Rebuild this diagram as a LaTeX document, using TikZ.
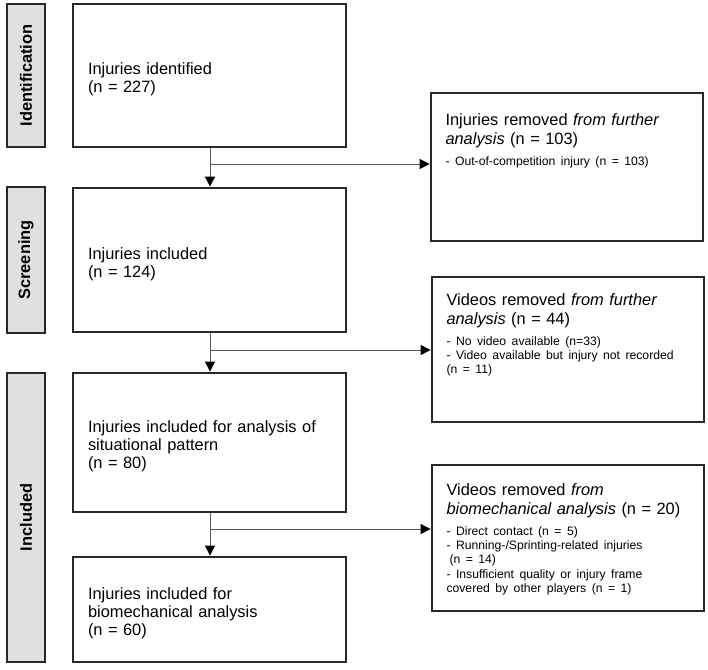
\documentclass[tikz,border=0pt]{standalone}
\usepackage{fontspec}
\setmainfont{Liberation Sans}
\usetikzlibrary{arrows.meta}
\definecolor{sidegray}{RGB}{224,224,224}
\definecolor{edgec}{RGB}{40,40,40}
\definecolor{linec}{RGB}{90,90,90}
\newcommand{\toppad}{\rule{0pt}{19.5pt}}
\begin{document}
\begin{tikzpicture}[x=1pt,y=-1pt,
  sidebox/.style={draw=edgec, line width=1.4pt, fill=sidegray, rotate=90, inner sep=0pt,
    font=\fontsize{16.4}{18}\selectfont\bfseries},
  mainbox/.style={draw=edgec, line width=1.4pt, minimum width=273pt, inner sep=0pt,
    text width=243pt, align=left, font=\fontsize{16.4}{18}\selectfont},
  sidebox2/.style={draw=edgec, line width=1.4pt, inner sep=0pt},
  rtext/.style={anchor=north west, inner sep=0pt, text width=255pt, align=left,
    font=\fontsize{16.4}{19.5}\selectfont},
  flow/.style={draw=linec, line width=0.9pt,
    -{Triangle[length=10pt,width=10pt,fill=black,color=black]}, shorten >=0.7pt}
]
\useasboundingbox (0,0) rectangle (708,669);

% phase labels
\node[sidebox, minimum width=143pt, minimum height=38pt] (sid) at (26,75.5) {Identification};
\node[sidebox, minimum width=146pt, minimum height=38pt] (sscr) at (26,260) {Screening};
\node[sidebox, minimum width=289pt, minimum height=38pt] (sinc) at (26,517.5) {Included};

% main boxes
\node[mainbox, minimum height=143pt] (b1) at (209.5,75.5) {\toppad Injuries identified\\(n = 227)};
\node[mainbox, minimum height=144pt] (b2) at (209.5,260) {\toppad Injuries included\\(n = 124)};
\node[mainbox, minimum height=139pt] (b3) at (209.5,442.5) {\toppad Injuries included for analysis of\\situational pattern\\(n = 80)};
\node[mainbox, minimum height=105pt] (b4) at (209.5,609.5) {\toppad Injuries included for\\biomechanical analysis\\(n = 60)};

% right boxes
\node[sidebox2, minimum width=272pt, minimum height=148pt] (r1) at (567,167) {};
\node[sidebox2, minimum width=272pt, minimum height=145pt] (r2) at (568,349.5) {};
\node[sidebox2, minimum width=272pt, minimum height=146pt] (r3) at (568,538) {};

\node[rtext] (t1) at ([xshift=15pt,yshift=-21pt]r1.north west)
  {Injuries removed \textit{from further}\\\textit{analysis} (n = 103)\par\vspace{6pt}
   \fontsize{12.2}{14.3}\selectfont - Out-of-competition injury (n = 103)\par};
\node[rtext] (t2) at ([xshift=15pt,yshift=-17pt]r2.north west)
  {Videos removed \textit{from further}\\\textit{analysis} (n = 44)\par\vspace{6pt}
   \fontsize{12.2}{14.3}\selectfont - No video available (n=33)\\- Video available but injury not recorded\\(n = 11)\par};
\node[rtext] (t3) at ([xshift=15pt,yshift=-19pt]r3.north west)
  {Videos removed \textit{from}\\\textit{biomechanical analysis} (n = 20)\par\vspace{6pt}
   \fontsize{12.2}{14.3}\selectfont - Direct contact (n = 5)\\- Running-/Sprinting-related injuries\\\hspace{3pt}(n = 14)\\- Insufficient quality or injury frame\\covered by other players (n = 1)\par};

% junctions
\coordinate (j1) at (210,164);
\coordinate (j2) at (210,350);
\coordinate (j3) at (210,529);

% connectors
\draw[flow] (b1.south -| j1) -- (b2.north -| j1);
\draw[flow] (b2.south -| j2) -- (b3.north -| j2);
\draw[flow] (b3.south -| j3) -- (b4.north -| j3);
\draw[flow] (j1) -- (j1 -| r1.west);
\draw[flow] (j2) -- (j2 -| r2.west);
\draw[flow] (j3) -- (j3 -| r3.west);
\end{tikzpicture}
\end{document}
